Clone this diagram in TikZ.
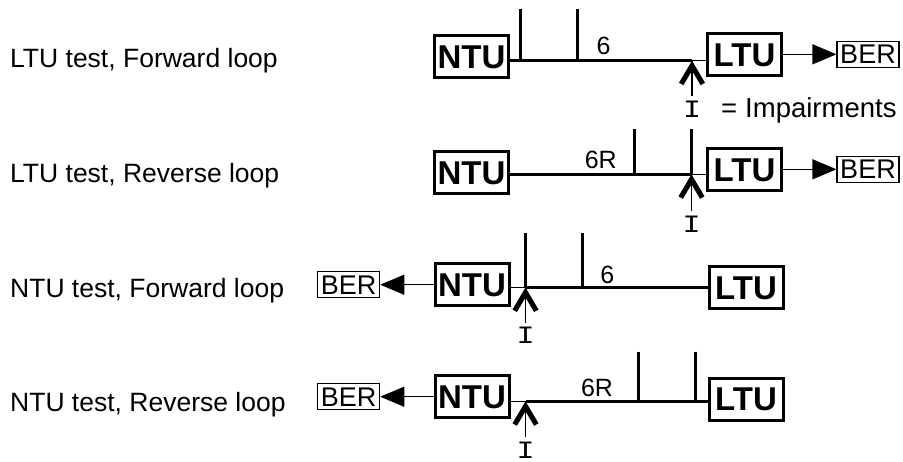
\documentclass[tikz,border=0pt]{standalone}
\usepackage{fontspec}
\usepackage{graphicx}
\setmainfont{Liberation Sans}
\newfontfamily\impmono{Liberation Mono}
\usetikzlibrary{arrows.meta}
\newcommand{\impI}{\scalebox{1.2}[1]{I}}
\begin{document}
\begin{tikzpicture}[x=1pt,y=-1pt,
  unitbox/.style={draw, line width=3pt, minimum width=74pt, minimum height=42pt, inner sep=0pt,
    font=\fontsize{33}{36}\selectfont\bfseries, text height=23.5pt, text depth=0pt},
  berbox/.style={draw, line width=1.1pt, minimum width=62pt, minimum height=26pt, inner sep=0pt,
    font=\fontsize{27}{30}\selectfont, text height=19pt, text depth=0pt},
  lbl/.style={anchor=base west, inner sep=0pt, font=\fontsize{26.5}{30}\selectfont},
  numlbl/.style={anchor=base, inner sep=0pt, font=\fontsize{25}{28}\selectfont},
  impsym/.style={anchor=base, inner sep=0pt, outer ysep=5pt, font=\impmono\fontsize{25}{28}\selectfont,
    text height=16pt, text depth=0pt},
  loopline/.style={line width=2.7pt},
  tapline/.style={line width=2.7pt},
  thinline/.style={line width=1.1pt},
  berarrow/.style={line width=1.1pt, -{Triangle[length=24pt,width=20pt]}},
  chevron/.pic={\fill (0,0) -- (-13,22) -- (-8.6,24.5) -- (0,10) -- (8.6,24.5) -- (13,22) -- cycle;}
]
\useasboundingbox (0,0) rectangle (903,461);

% ---------- Row 1: LTU test, Forward loop ----------
\node[lbl] (L1) at (10,67.3) {LTU test, Forward loop};
\node[unitbox] (N1) at (471.5,56.7) {NTU};
\node[unitbox] (T1) at (744.5,54.3) {LTU};
\node[berbox] (B1) at (868,54.3) {BER};
\coordinate (J1) at (692,60.7);
\coordinate (a1) at (520.7,9.3);
\coordinate (b1) at (577.3,9.3);
\draw[loopline] (N1.east |- J1) -- (J1);
\draw[thinline] (J1) -- (T1.west |- J1);
\draw[tapline] (a1) -- (a1 |- J1);
\draw[tapline] (b1) -- (b1 |- J1);
\node[numlbl] (n1) at (603.5,54) {6};
\draw[berarrow] (T1) -- (B1);
\node[impsym] (I1) at (692,117) {\impI};
\draw[thinline] (I1.north) -- (J1);
\pic at (J1) {chevron};
\node[lbl, font=\fontsize{27.5}{30}\selectfont] (E1) at (721,117) {=\hspace{8pt}Impairments};

% ---------- Row 2: LTU test, Reverse loop ----------
\node[lbl] (L2) at (10,182.3) {LTU test, Reverse loop};
\node[unitbox] (N2) at (471.5,172.7) {NTU};
\node[unitbox] (T2) at (744.5,169.3) {LTU};
\node[berbox] (B2) at (868,169.3) {BER};
\coordinate (J2) at (691.5,174.3);
\coordinate (a2) at (634.3,129.3);
\coordinate (b2) at (691.5,129.3);
\draw[loopline] (N2.east |- J2) -- (J2);
\draw[thinline] (J2) -- (T2.west |- J2);
\draw[tapline] (a2) -- (a2 |- J2);
\draw[tapline] (b2) -- (J2);
\node[numlbl] (n2) at (600.8,168.5) {6R};
\draw[berarrow] (T2) -- (B2);
\node[impsym] (I2) at (691.5,232) {\impI};
\draw[thinline] (I2.north) -- (J2);
\pic at (J2) {chevron};

% ---------- Row 3: NTU test, Forward loop ----------
\node[lbl] (L3) at (10,297.3) {NTU test, Forward loop};
\node[unitbox] (N3) at (472,284.7) {NTU};
\node[unitbox] (T3) at (746,287.5) {LTU};
\node[berbox] (B3) at (348.7,284.7) {BER};
\coordinate (J3) at (525.5,287.5);
\coordinate (a3) at (525.5,233.3);
\coordinate (b3) at (582.3,233.3);
\draw[thinline] (N3.east |- J3) -- (J3);
\draw[loopline] (J3) -- (T3.west |- J3);
\draw[tapline] (a3) -- (J3);
\draw[tapline] (b3) -- (b3 |- J3);
\node[numlbl] (n3) at (607.3,283) {6};
\draw[berarrow] (N3) -- (B3);
\node[impsym] (I3) at (525.5,343.5) {\impI};
\draw[thinline] (I3.north) -- (J3);
\pic at (J3) {chevron};

% ---------- Row 4: NTU test, Reverse loop ----------
\node[lbl] (L4) at (10,411.7) {NTU test, Reverse loop};
\node[unitbox] (N4) at (472,396.7) {NTU};
\node[unitbox] (T4) at (746,399.2) {LTU};
\node[berbox] (B4) at (348.7,396.7) {BER};
\coordinate (J4) at (525.5,401.3);
\coordinate (a4) at (638.5,351.7);
\coordinate (b4) at (695.5,351.7);
\draw[thinline] (N4.east |- J4) -- (J4);
\draw[loopline] (J4) -- (T4.west |- J4);
\draw[tapline] (a4) -- (a4 |- J4);
\draw[tapline] (b4) -- (b4 |- J4);
\node[numlbl] (n4) at (597,396.5) {6R};
\draw[berarrow] (N4) -- (B4);
\node[impsym] (I4) at (525.5,458) {\impI};
\draw[thinline] (I4.north) -- (J4);
\pic at (J4) {chevron};
\end{tikzpicture}
\end{document}
